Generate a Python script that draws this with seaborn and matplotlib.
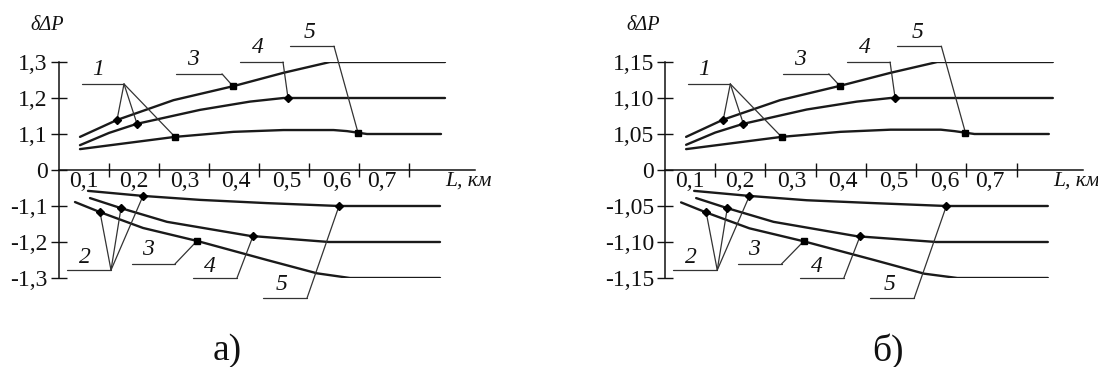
import numpy as np
import matplotlib
matplotlib.use("Agg")
import matplotlib.pyplot as plt
import seaborn as sns

sns.set_theme(style="white")
plt.rcParams["font.family"] = ["Liberation Serif", "DejaVu Serif"]
plt.rcParams["axes.edgecolor"] = "#111111"
plt.rcParams["xtick.color"] = "#111111"
plt.rcParams["ytick.color"] = "#111111"

# ---- distance along the line, km (shared by both panels) ----
L_up3 = [0.042, 0.116, 0.229, 0.349, 0.449, 0.542, 0.772]
L_up4 = [0.042, 0.100, 0.155, 0.282, 0.382, 0.449, 0.772]
L_up5 = [0.042, 0.232, 0.349, 0.449, 0.549, 0.576, 0.616, 0.764]
L_dn5 = [0.058, 0.168, 0.282, 0.416, 0.560, 0.762]
L_dn4 = [0.062, 0.124, 0.216, 0.382, 0.540, 0.762]
L_dn3 = [0.032, 0.082, 0.168, 0.276, 0.416, 0.516, 0.582, 0.762]

# ---- panel a) relative losses ----
a_up3 = [1.092, 1.139, 1.194, 1.233, 1.270, 1.300, 1.300]
a_up4 = [1.069, 1.103, 1.128, 1.167, 1.190, 1.200, 1.200]
a_up5 = [1.058, 1.092, 1.106, 1.111, 1.111, 1.108, 1.100, 1.100]
a_dn5 = [-1.058, -1.072, -1.083, -1.092, -1.100, -1.100]
a_dn4 = [-1.078, -1.106, -1.144, -1.183, -1.200, -1.200]
a_dn3 = [-1.089, -1.117, -1.161, -1.197, -1.250, -1.287, -1.300, -1.300]

# ---- panel б) relative losses ----
b_up3 = [1.046, 1.070, 1.097, 1.117, 1.135, 1.150, 1.150]
b_up4 = [1.035, 1.052, 1.064, 1.084, 1.095, 1.100, 1.100]
b_up5 = [1.029, 1.046, 1.053, 1.056, 1.056, 1.054, 1.050, 1.050]
b_dn5 = [-1.029, -1.036, -1.042, -1.046, -1.050, -1.050]
b_dn4 = [-1.039, -1.053, -1.072, -1.092, -1.100, -1.100]
b_dn3 = [-1.045, -1.059, -1.081, -1.099, -1.125, -1.144, -1.150, -1.150]

# ---- tick labels ----
x_ticks = [0.1, 0.2, 0.3, 0.4, 0.5, 0.6, 0.7]
x_labels = ["0,1", "0,2", "0,3", "0,4", "0,5", "0,6", "0,7"]
a_yticks = [-1.3, -1.2, -1.1, 0.0, 1.1, 1.2, 1.3]
a_ylabels = ["-1,3", "-1,2", "-1,1", "0", "1,1", "1,2", "1,3"]
b_yticks = [-1.15, -1.10, -1.05, 0.0, 1.05, 1.10, 1.15]
b_ylabels = ["-1,15", "-1,10", "-1,05", "0", "1,05", "1,10", "1,15"]

LINE = "#1a1a1a"
LEAD = "#333333"


def broken_scale(step):
    """Axis with a gap between 0 and 1: |v| = 1 + k*step sits k units from 0."""
    def fwd(v):
        v = np.asarray(v, dtype=float)
        return np.sign(v) * np.clip(np.abs(v) - 1.0, 0.0, None) / step

    def inv(u):
        u = np.asarray(u, dtype=float)
        return np.sign(u) * (1.0 + np.abs(u) * step)
    return fwd, inv


def draw_panel(ax, curves, yticks, ylabels, step):
    fwd, inv = broken_scale(step)
    ax.set_yscale("function", functions=(fwd, inv))

    for L, v in curves.values():
        sns.lineplot(x=L, y=v, ax=ax, color=LINE, lw=1.7,
                     estimator=None, sort=False, legend=False)

    ax.set_xlim(0, 0.832)
    ax.set_ylim(yticks[0], yticks[-1])
    ax.set_yticks(yticks, ylabels)
    ax.set_xticks(x_ticks, [""] * len(x_ticks))
    ax.set_xticks([0.050, 0.149, 0.252, 0.354, 0.456, 0.556, 0.646],
                  x_labels, minor=True)
    ax.tick_params(axis="y", left=True, direction="inout", length=12,
                   width=1.0, labelsize=17, pad=2)
    ax.tick_params(axis="x", which="major", bottom=True, direction="inout",
                   length=9.5, width=1.0)
    ax.tick_params(axis="x", which="minor", bottom=True, length=0,
                   labelsize=17, pad=1)
    for t in ax.get_xticklabels(minor=True):
        t.set_bbox(dict(facecolor="white", edgecolor="none", pad=0.5))

    for s in ("top", "right"):
        ax.spines[s].set_visible(False)
    ax.spines["bottom"].set_position(("data", 0))
    ax.spines["left"].set_linewidth(1.1)
    ax.spines["bottom"].set_linewidth(1.1)
    ax.set_xlabel("")
    ax.set_ylabel("")

    ax.annotate("L, км", xy=(0.772, 0), xycoords="data",
                xytext=(0, -11), textcoords="offset points",
                ha="left", va="baseline", fontsize=15.5, style="italic",
                color="#111111")

    # numbered pointers: text, shelf line, then leaders to the marked points
    pointers = [
        ("1", (0.078, 2.78), (0.046, 0.130, 2.39),
         [("up3", 0.116, "D"), ("up4", 0.156, "D"), ("up5", 0.232, "s")]),
        ("3", (0.268, 3.06), (0.234, 0.326, 2.67), [("up3", 0.348, "s")]),
        ("4", (0.398, 3.39), (0.362, 0.448, 3.00), [("up4", 0.458, "D")]),
        ("5", (0.502, 3.83), (0.462, 0.550, 3.44), [("up5", 0.598, "s")]),
        ("2", (0.052, -2.42), (0.016, 0.104, -2.78),
         [("dn3", 0.082, "D"), ("dn4", 0.124, "D"), ("dn5", 0.168, "D")]),
        ("3", (0.178, -2.22), (0.146, 0.232, -2.61), [("dn3", 0.276, "s")]),
        ("4", (0.302, -2.69), (0.268, 0.356, -3.00), [("dn4", 0.388, "D")]),
        ("5", (0.446, -3.19), (0.408, 0.496, -3.56), [("dn5", 0.560, "D")]),
    ]
    for label, (tx, tu), (s0, s1, su), targets in pointers:
        ax.text(tx, float(inv(tu)), label, ha="center", va="center",
                fontsize=17, style="italic", color="#111111")
        sv = float(inv(su))
        ax.plot([s0, s1], [sv, sv], color=LEAD, lw=0.9, clip_on=False)
        for key, lx, mk in targets:
            L, v = curves[key]
            ly = float(np.interp(lx, L, v))
            ax.plot([s1, lx], [sv, ly], color=LEAD, lw=0.9, clip_on=False)
            ax.plot([lx], [ly], marker=mk, ms=4, color="#000000",
                    mfc="#000000", ls="none", zorder=5)


fig = plt.figure(figsize=(10.98, 3.67), dpi=100)
W, H = 1098, 367
ax_a = fig.add_axes([59 / W, 89 / H, 416 / W, 216 / H])
ax_b = fig.add_axes([665 / W, 89 / H, 418 / W, 216 / H])

draw_panel(ax_a, {"up3": (L_up3, a_up3), "up4": (L_up4, a_up4),
                  "up5": (L_up5, a_up5), "dn5": (L_dn5, a_dn5),
                  "dn4": (L_dn4, a_dn4), "dn3": (L_dn3, a_dn3)},
           a_yticks, a_ylabels, 0.1)
draw_panel(ax_b, {"up3": (L_up3, b_up3), "up4": (L_up4, b_up4),
                  "up5": (L_up5, b_up5), "dn5": (L_dn5, b_dn5),
                  "dn4": (L_dn4, b_dn4), "dn3": (L_dn3, b_dn3)},
           b_yticks, b_ylabels, 0.05)

for x in (47, 643):
    fig.text(x / W, 1 - 25 / H, "δΔP", ha="center", va="center",
             fontsize=14.5, style="italic", color="#111111")

fig.text(227 / W, 1 - 351 / H, "а)", ha="center", va="center",
         fontsize=27, color="#111111")
fig.text(888 / W, 1 - 351 / H, "б)", ha="center", va="center",
         fontsize=27, color="#111111")

fig.savefig("out.png", dpi=100, facecolor="white")
